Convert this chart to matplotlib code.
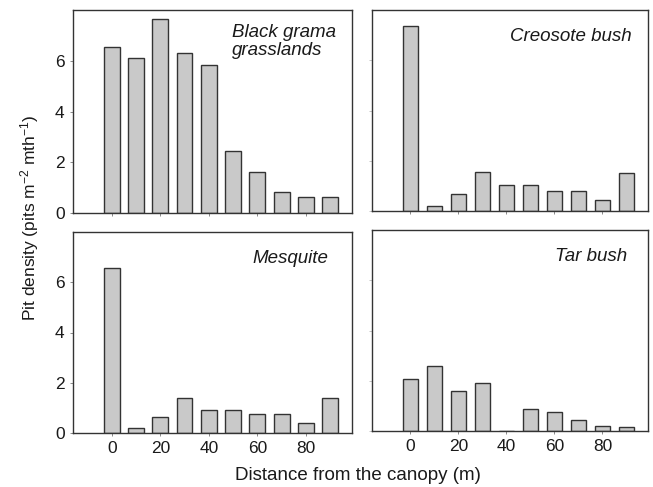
import matplotlib
matplotlib.use("Agg")
import matplotlib.pyplot as plt

plt.rcParams['font.family'] = ['Liberation Sans', 'DejaVu Sans']
plt.rcParams['mathtext.fontset'] = 'custom'
plt.rcParams['mathtext.rm'] = 'Liberation Sans'
plt.rcParams['mathtext.default'] = 'regular'

distance = [0, 10, 20, 30, 40, 50, 60, 70, 80, 90]
black_grama = [6.55, 6.12, 7.66, 6.32, 5.83, 2.43, 1.6, 0.81, 0.63, 0.63]
creosote = [7.37, 0.19, 0.69, 1.54, 1.02, 1.02, 0.79, 0.79, 0.42, 1.5]
mesquite = [6.55, 0.2, 0.62, 1.38, 0.92, 0.92, 0.75, 0.75, 0.4, 1.38]
tarbush = [2.06, 2.58, 1.61, 1.9, 0.0, 0.88, 0.75, 0.42, 0.2, 0.16]
panel_titles = ["Black grama\ngrasslands", "Creosote bush", "Mesquite", "Tar bush"]
yticks = [0, 2, 4, 6]
xticks = [0, 20, 40, 60, 80]

W, H = 653, 487
fig = plt.figure(figsize=(W/100, H/100), dpi=100)

def ax_rect(l, t, r, b):
    return [l/W, 1 - b/H, (r-l)/W, (b-t)/H]

rects = [ax_rect(73, 10, 352, 213), ax_rect(372, 10, 648, 211),
         ax_rect(73, 232, 352, 433), ax_rect(372, 230, 648, 431)]
data = [black_grama, creosote, mesquite, tarbush]
text_pos = [(0.57, 0.93, 'left'), (0.94, 0.91, 'right'), (0.915, 0.91, 'right'), (0.925, 0.91, 'right')]

edge = '#333333'
tc = '#1a1a1a'
for i, (rect, vals, title, tp) in enumerate(zip(rects, data, panel_titles, text_pos)):
    ax = fig.add_axes(rect)
    ax.bar(distance, vals, width=6.5, color='#c9c9c9', edgecolor=edge, linewidth=1.0)
    ax.set_xlim(-16, 99)
    ax.set_ylim(0, 8)
    ax.set_yticks(yticks)
    ax.set_xticks(xticks)
    for s in ax.spines.values():
        s.set_color(edge)
        s.set_linewidth(1.0)
    ax.tick_params(axis='both', direction='out', length=2, width=0.6, color='#777777',
                   labelsize=12.5, colors=tc, pad=4)
    if i % 2 == 1:
        ax.tick_params(axis='y', labelleft=False, length=2, color='#bbbbbb')
    if i < 2:
        ax.tick_params(axis='x', labelbottom=False)
    ax.text(tp[0], tp[1], title, transform=ax.transAxes, ha=tp[2], va='top',
            fontsize=13.5, style='italic', color=tc, linespacing=1.05)

fig.text(30/W, 1 - 218/H, 'Pit density (pits m$^{-2}$ mth$^{-1}$)', rotation=90,
         ha='center', va='center', fontsize=12.5, color=tc)
fig.text(358/W, 1 - 475/H, 'Distance from the canopy (m)', ha='center', va='center',
         fontsize=13.5, color=tc)

fig.savefig('out.png', dpi=100)
